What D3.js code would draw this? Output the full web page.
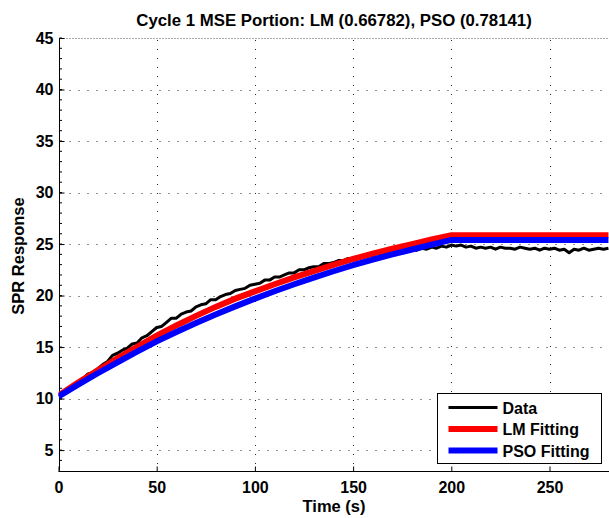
<!DOCTYPE html>
<html>
<head>
<meta charset="utf-8">
<script src="https://cdn.jsdelivr.net/npm/d3@7"></script>
<style>
	body { margin: 0; background: #fff; }
	text { font-family: "Liberation Sans", Arial, sans-serif; font-weight: bold; fill: #000; }
	.grid { stroke: #222; stroke-width: 1; stroke-dasharray: 1,8; }
	.grid.top { stroke-dasharray: 1,2; stroke: #555; }
</style>
</head>
<body>
<div class="container"></div>
<script>
var title = 'Cycle 1 MSE Portion: LM (0.66782), PSO (0.78141)';
var xTicks = [0, 50, 100, 150, 200, 250];
var yTicks = [5, 10, 15, 20, 25, 30, 35, 40, 45];
var legendNames = ['Data', 'LM Fitting', 'PSO Fitting'];

// measured data, one sample every 2.5 s
var dataStep = 2.5;
var dataValues = [
	10.3, 10.5, 10.8, 11.2, 11.6, 11.9, 12.4, 12.5, 12.9, 13.3,
	13.6, 14.2, 14.4, 14.7, 14.9, 15.3, 15.4, 15.9, 16.1, 16.5,
	16.9, 17.0, 17.4, 17.8, 17.8, 18.2, 18.4, 18.5, 18.9, 19.1,
	19.2, 19.6, 19.6, 19.9, 20.1, 20.2, 20.5, 20.6, 20.7, 21.0,
	21.1, 21.2, 21.5, 21.5, 21.8, 21.8, 22.0, 22.2, 22.2, 22.5,
	22.5, 22.7, 22.8, 22.8, 23.1, 23.1, 23.2, 23.4, 23.4, 23.6,
	23.6, 23.8, 23.7, 24.0, 23.9, 24.1, 24.1, 24.1, 24.3, 24.2,
	24.4, 24.3, 24.5, 24.4, 24.6, 24.5, 24.7, 24.6, 24.8, 24.7,
	24.9, 24.8, 24.9, 24.7, 24.8, 24.6, 24.7, 24.6, 24.7, 24.5,
	24.7, 24.6, 24.6, 24.5, 24.7, 24.6, 24.5, 24.6, 24.4, 24.6,
	24.5, 24.6, 24.4, 24.5, 24.15, 24.5, 24.4, 24.6, 24.4, 24.5,
	24.6, 24.5, 24.6
];

var fitTimes = [0, 10, 20, 30, 40, 50, 60, 70, 80, 90, 100, 110, 120, 130, 140, 150, 160, 170, 180, 190, 200, 280];
var lmValues = [10.3, 11.55, 12.75, 13.9, 15.02, 16.1, 17.1, 18.03, 18.9, 19.7, 20.4, 21.1, 21.76, 22.38, 22.97, 23.55, 24.07, 24.55, 25.0, 25.44, 25.85, 25.85];
var psoValues = [10.2, 11.36, 12.46, 13.52, 14.55, 15.55, 16.47, 17.34, 18.16, 18.95, 19.7, 20.42, 21.1, 21.74, 22.36, 22.95, 23.49, 23.99, 24.47, 24.94, 25.4, 25.4];

const WIDTH = 609;
const HEIGHT = 518;
const LEFT = 58.5;
const TOP = 38;
const BOTTOM = 470.7;

var translate = function(x, y){
	return "translate(" + x + "," + y + ")";
};

var svg = d3.select('.container').append('svg')
	.attr('width', WIDTH)
	.attr('height', HEIGHT);

var xScale = d3.scaleLinear()
	.domain([0, 282])
	.range([LEFT, LEFT + 282 * 1.964]);

var yScale = d3.scaleLinear()
	.domain([3, 45])
	.range([BOTTOM, TOP]);

svg.append('clipPath').attr('id', 'plot')
	.append('rect')
	.attr('x', LEFT).attr('y', TOP)
	.attr('width', WIDTH - LEFT).attr('height', BOTTOM - TOP);

// grid
svg.selectAll('.hgrid').data(yTicks)
	.enter().append('line')
	.attr('class', function(d){ return d === 45 ? 'grid top' : 'grid'; })
	.attr('x1', LEFT + 2).attr('x2', WIDTH)
	.attr('y1', function(d){ return Math.round(yScale(d)) + 0.5; })
	.attr('y2', function(d){ return Math.round(yScale(d)) + 0.5; });

svg.selectAll('.vgrid').data(xTicks.slice(1))
	.enter().append('line')
	.classed('grid', true)
	.attr('x1', function(d){ return Math.round(xScale(d)) + 0.5; })
	.attr('x2', function(d){ return Math.round(xScale(d)) + 0.5; })
	.attr('y1', TOP + 2).attr('y2', BOTTOM);

// axes, MATLAB style ticks pointing in
var xAxis = d3.axisBottom(xScale).tickValues(xTicks).tickSizeInner(-5).tickSizeOuter(0).tickPadding(10);
var yAxis = d3.axisLeft(yScale).tickValues(yTicks).tickSizeInner(-5).tickSizeOuter(0).tickPadding(6);

var gx = svg.append('g')
	.attr('transform', translate(0, Math.round(BOTTOM) + 0.5))
	.call(xAxis);
var gy = svg.append('g')
	.attr('transform', translate(Math.round(LEFT) + 0.5, 0))
	.call(yAxis);

[gx, gy].forEach(function(g){
	g.select('.domain').attr('stroke', '#000').attr('stroke-width', 1);
	g.selectAll('.tick line').attr('stroke', '#000');
	g.selectAll('.tick text').attr('font-size', 16).attr('font-family', null);
});
gx.select('.domain').attr('d', 'M' + LEFT + ',0H' + WIDTH);
gy.select('.domain').attr('d', 'M0,' + BOTTOM + 'V' + TOP);

// y minor ticks
gy.selectAll('.minor').data(d3.range(4, 46))
	.enter().append('line')
	.attr('x1', 0).attr('x2', 2.5)
	.attr('y1', function(d){ return yScale(d); })
	.attr('y2', function(d){ return yScale(d); })
	.attr('stroke', '#000');

// lines
var g = svg.append('g').attr('clip-path', 'url(#plot)');

var dataLine = d3.line()
	.x(function(d, i){ return xScale(i * dataStep); })
	.y(function(d){ return yScale(d); });

var fitLine = d3.line()
	.x(function(d, i){ return xScale(fitTimes[i]); })
	.y(function(d){ return yScale(d); });

g.append('path')
	.attr('d', dataLine(dataValues))
	.attr('fill', 'none').attr('stroke', '#000').attr('stroke-width', 3)
	.attr('stroke-linejoin', 'round');

g.append('path')
	.attr('d', fitLine(lmValues))
	.attr('fill', 'none').attr('stroke', '#ff0000').attr('stroke-width', 6);

g.append('path')
	.attr('d', fitLine(psoValues))
	.attr('fill', 'none').attr('stroke', '#0000ff').attr('stroke-width', 6);

// labels
svg.append('text')
	.attr('x', 334).attr('y', 26)
	.attr('text-anchor', 'middle')
	.attr('font-size', 16.8)
	.text(title);

svg.append('text')
	.attr('x', 334).attr('y', 512)
	.attr('text-anchor', 'middle')
	.attr('font-size', 16.5)
	.text('Time (s)');

svg.append('text')
	.attr('transform', translate(24, 256) + ' rotate(-90)')
	.attr('text-anchor', 'middle')
	.attr('font-size', 16.5)
	.text('SPR Response');

// legend
var legend = svg.append('g').attr('transform', translate(437.5, 393.5));
legend.append('rect')
	.attr('width', 164).attr('height', 70)
	.attr('fill', '#fff').attr('stroke', '#000');

var legendColors = ['#000', '#ff0000', '#0000ff'];
var legendWidths = [3, 6, 6];
var items = legend.selectAll('.item').data(legendNames)
	.enter().append('g')
	.attr('transform', function(d, i){ return translate(0, 14 + i * 21.5); });
items.append('line')
	.attr('x1', 11).attr('x2', 60)
	.attr('stroke', function(d, i){ return legendColors[i]; })
	.attr('stroke-width', function(d, i){ return legendWidths[i]; });
items.append('text')
	.attr('x', 65).attr('y', 6)
	.attr('font-size', 16)
	.text(function(d){ return d; });
</script>
</body>
</html>
